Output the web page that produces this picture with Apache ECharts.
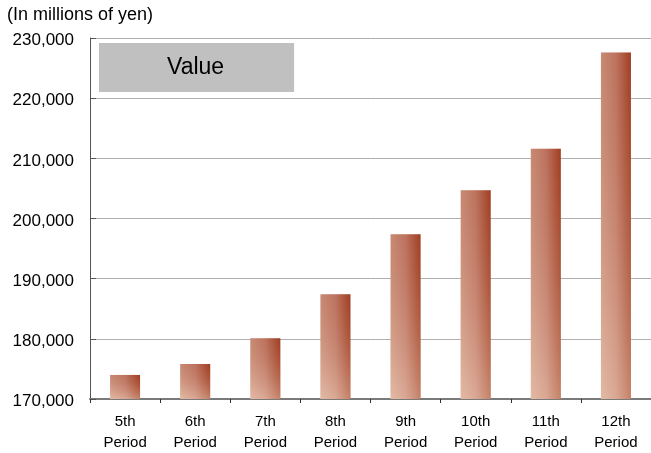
<!DOCTYPE html>
<html>
<head>
<meta charset="utf-8">
<script src="https://cdn.jsdelivr.net/npm/echarts@6/dist/echarts.min.js"></script>
<style>
  html, body { margin: 0; padding: 0; background: #fff; }
  #chart { width: 651px; height: 453px; }
</style>
</head>
<body>
<div id="chart"></div>
<script>
// Periods shown along the x axis
const periods = ['5th\nPeriod', '6th\nPeriod', '7th\nPeriod', '8th\nPeriod',
                 '9th\nPeriod', '10th\nPeriod', '11th\nPeriod', '12th\nPeriod'];
// Value per period, in millions of yen
const values = [174000, 175800, 180100, 187400, 197400, 204700, 211600, 227600];
// Value axis range and step
const yMin = 170000;
const yMax = 230000;
const yStep = 10000;

const FONT = '"Liberation Sans", Arial, sans-serif';

const chart = echarts.init(document.getElementById('chart'), null, { renderer: 'canvas' });

chart.setOption({
  animation: false,
  backgroundColor: '#ffffff',
  title: {
    text: '(In millions of yen)',
    left: 7,
    top: 6,
    padding: 0,
    textStyle: { fontFamily: FONT, fontSize: 18, fontWeight: 'normal', color: '#000' }
  },
  legend: {
    data: [{ name: 'Value', icon: 'rect' }],
    left: 99,
    top: 43,
    padding: [13, 70, 13, 63],
    backgroundColor: '#c0c0c0',
    itemWidth: 0,
    itemHeight: 0,
    selectedMode: false,
    textStyle: { fontFamily: FONT, fontSize: 23, lineHeight: 22, color: '#000' }
  },
  grid: { left: 90, right: 0, top: 38, bottom: 53, containLabel: false },
  xAxis: {
    type: 'category',
    data: periods,
    axisLine: { show: true, lineStyle: { color: '#7a7a7a', width: 2 } },
    axisTick: { show: true, alignWithLabel: false, length: 4, lineStyle: { color: '#333' } },
    axisLabel: {
      fontFamily: FONT, fontSize: 15, lineHeight: 21, color: '#000',
      margin: 12, interval: 0
    }
  },
  yAxis: {
    type: 'value',
    min: yMin,
    max: yMax,
    interval: yStep,
    axisLine: { show: true, lineStyle: { color: '#555', width: 1 } },
    axisTick: { show: true, inside: true, length: 6, lineStyle: { color: '#555' } },
    splitLine: { show: true, lineStyle: { color: '#b0b0b0', width: 1 } },
    axisLabel: {
      margin: 16,
      formatter: v => '{n|' + v.toLocaleString('en-US') + '}',
      rich: {
        // small top padding sits the numbers just under their gridline
        n: { fontFamily: FONT, fontSize: 17, color: '#000', padding: [5, 0, 0, 0] }
      }
    }
  },
  series: [
    {
      name: 'Value',
      type: 'bar',
      data: values,
      barWidth: 30,
      itemStyle: {
        color: new echarts.graphic.LinearGradient(0, 0, 1, 0, [
          { offset: 0, color: '#d8aa94' },
          { offset: 0.5, color: '#c98a78' },
          { offset: 1, color: '#a34426' }
        ])
      }
    },
    {
      // vertical shading laid over the same bars: darker toward the top
      name: 'shade',
      type: 'bar',
      data: values,
      barWidth: 30,
      barGap: '-100%',
      silent: true,
      itemStyle: {
        color: new echarts.graphic.LinearGradient(0, 0, 0, 1, [
          { offset: 0, color: 'rgba(150,45,20,0.25)' },
          { offset: 1, color: 'rgba(238,205,185,0.45)' }
        ])
      }
    }
  ]
});
</script>
</body>
</html>
